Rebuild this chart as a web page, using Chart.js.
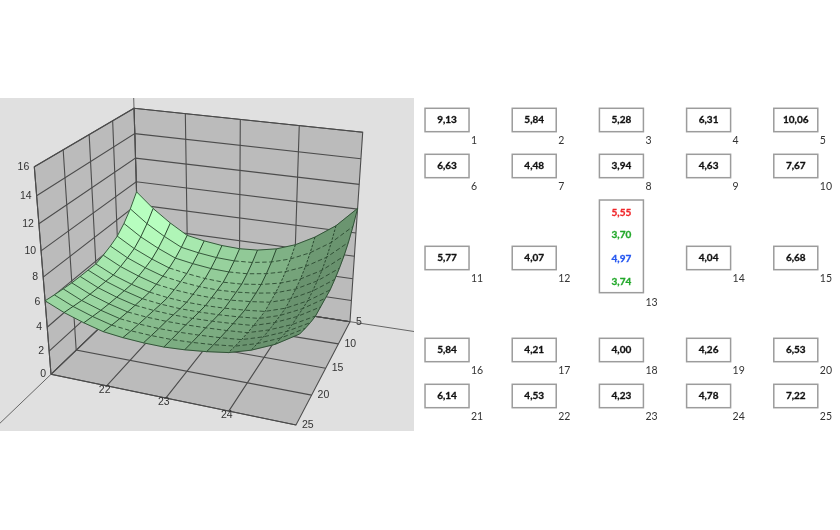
<!DOCTYPE html>
<html><head><meta charset="utf-8">
<style>
html,body{margin:0;padding:0;background:#fff;width:840px;height:530px;overflow:hidden}
canvas{position:absolute;display:block;filter:blur(.4px)}
#surface{left:0;top:98px;background:#e0e0e0}
#grid{left:420px;top:98px}
</style>
<script src="https://cdn.jsdelivr.net/npm/chart.js@4/dist/chart.umd.min.js"></script>
</head><body>
<canvas id="surface" width="414" height="333"></canvas>
<canvas id="grid" width="420" height="333"></canvas>
<script>
// ---------- data ----------
const zTicks = [0,2,4,6,8,10,12,14,16];
const xTicks = [22,23,24];
const yTicks = [5,10,15,20,25];
const surfaceX = [21,21.33,21.67,22,22.33,22.67,23,23.33,23.67,24,24.33,24.67,25];
const surfaceY = [5,6.67,8.33,10,11.67,13.33,15,16.67,18.33,20,21.67,23.33,25];
const surfaceZ = [
 [9.13,7.85,6.75,5.84,5.55,5.35,5.28,5.38,5.72,6.31,7.20,8.40,10.06],
 [8.08,6.97,6.04,5.27,4.99,4.79,4.72,4.81,5.10,5.60,6.38,7.50,9.06],
 [7.26,6.28,5.48,4.82,4.55,4.35,4.28,4.36,4.62,5.05,5.74,6.79,8.27],
 [6.63,5.75,5.05,4.48,4.22,4.02,3.94,4.02,4.25,4.63,5.25,6.25,7.67],
 [6.27,5.46,4.82,4.31,4.06,3.89,3.84,3.91,4.09,4.38,4.98,5.94,7.25],
 [5.99,5.23,4.64,4.17,3.94,3.80,3.76,3.82,3.97,4.19,4.76,5.69,6.93],
 [5.77,5.05,4.50,4.07,3.85,3.72,3.70,3.75,3.87,4.04,4.60,5.50,6.68],
 [5.79,5.08,4.53,4.10,3.90,3.79,3.78,3.83,3.94,4.10,4.65,5.51,6.64],
 [5.81,5.11,4.57,4.15,3.98,3.89,3.88,3.93,4.03,4.17,4.72,5.53,6.59],
 [5.84,5.15,4.62,4.21,4.06,4.00,4.00,4.05,4.13,4.26,4.80,5.55,6.53],
 [5.92,5.23,4.70,4.29,4.13,4.06,4.06,4.12,4.23,4.39,4.93,5.69,6.70],
 [6.02,5.35,4.82,4.40,4.23,4.15,4.14,4.22,4.36,4.57,5.10,5.88,6.94],
 [6.14,5.48,4.95,4.53,4.35,4.25,4.23,4.33,4.52,4.78,5.30,6.10,7.22]
];
const cellLabels = ["1","2","3","4","5","6","7","8","9","10","11","12","14","15","16","17","18","19","20","21","22","23","24","25"];
const cellValues = [9.13,5.84,5.28,6.31,10.06,6.63,4.48,3.94,4.63,7.67,5.77,4.07,4.04,6.68,5.84,4.21,4.00,4.26,6.53,6.14,4.53,4.23,4.78,7.22];
const cellCols = [1,2,3,4,5,1,2,3,4,5,1,2,4,5,1,2,3,4,5,1,2,3,4,5];
const cellRows = [1,1,1,1,1,2,2,2,2,2,4,4,4,4,6,6,6,6,6,7,7,7,7,7];
const centreValues = [5.55,3.70,4.97,3.74];
const centreRows = [3.007,3.5,4.015,4.515];
const centreColours = ["#f0262a","#22a82a","#2456f0","#22a82a"];

// ---------- camera of the 3D box (pixels of the picture) ----------
const cam = {
  floor:[[139.5,289.5],[350,321.7],[296,425],[51,374.3]],
  top:[[134,108.3],[362.7,132.3],[304.7,208.3],[34.3,166.7]],
  k:0.88
};
function quad(p){
  const [x0,y0]=p[0],[x1,y1]=p[1],[x2,y2]=p[2],[x3,y3]=p[3];
  const dx1=x1-x2,dx2=x3-x2,sx=x0-x1+x2-x3,dy1=y1-y2,dy2=y3-y2,sy=y0-y1+y2-y3;
  const den=dx1*dy2-dx2*dy1,g=(sx*dy2-dx2*sy)/den,h=(dx1*sy-sx*dy1)/den;
  const a=x1-x0+g*x1,b=x3-x0+h*x3,d=y1-y0+g*y1,e=y3-y0+h*y3;
  return (u,v)=>{const w=g*u+h*v+1;return [(a*u+b*v+x0)/w,(d*u+e*v+y0)/w];};
}
const floorMap=quad(cam.floor), topMap=quad(cam.top);
function project(x,y,z){
  const u=(x-21)/4,v=(y-5)/20,t=z/16,f=t*cam.k/(1+t*(cam.k-1));
  const a=floorMap(u,v),b=topMap(u,v);
  return {x:a[0]+(b[0]-a[0])*f,y:a[1]+(b[1]-a[1])*f};
}

// ---------- datasets of the surface chart ----------
const sets=[];
const WALL="#bbbbbb",LINE="#4c4c4c";
function poly(pts,fillColour){sets.push({data:pts,showLine:true,fill:'shape',backgroundColor:fillColour,borderColor:LINE,borderWidth:1.1,pointRadius:0,tension:0});}
function line(pts,colour,width,dash){sets.push({data:pts,showLine:true,fill:false,borderColor:colour,borderWidth:width,borderDash:dash||[],pointRadius:0,tension:0});}
const P=project;
poly([P(21,5,0),P(25,5,0),P(25,5,16),P(21,5,16),P(21,5,0)],WALL);
poly([P(21,25,0),P(21,5,0),P(21,5,16),P(21,25,16),P(21,25,0)],WALL);
poly([P(21,25,0),P(25,25,0),P(25,5,0),P(21,5,0),P(21,25,0)],WALL);
zTicks.forEach(z=>{line([P(21,25,z),P(21,5,z),P(25,5,z)],LINE,1.1);});
xTicks.forEach(x=>{line([P(x,25,0),P(x,5,0),P(x,5,16)],LINE,1.1);});
yTicks.forEach(y=>{line([P(25,y,0),P(21,y,0),P(21,y,16)],LINE,1.1);});
line([P(25,5,0),P(28,5,0)],"#666",1);
line([P(21,25,0),P(21,36,0)],"#666",1);
line([P(21,5,16),P(21,5,17.2)],"#666",1);

function facetColour(i,j){
  const Z=surfaceZ,n=12;
  const i0=Math.max(0,i-1),i1=Math.min(n,i+2),j0=Math.max(0,j-1),j1=Math.min(n,j+2);
  const du=((Z[j][i1]+Z[j+1][i1])-(Z[j][i0]+Z[j+1][i0]))/2/(i1-i0)/16*12;
  const dv=((Z[j1][i]+Z[j1][i+1])-(Z[j0][i]+Z[j0][i+1]))/2/(j1-j0)/16*12;
  const len=Math.hypot(du,dv,1),nx=-du/len,ny=-dv/len,nz=1/len;
  const depth=(i+j)/24;
  const G=Math.max(146,Math.min(254,186+78*nx+44*ny+13*nz-26*depth));
  return `rgb(${Math.round(G*.72)},${Math.round(G)},${Math.round(G*.75)})`;
}
const facets=[];
for(let j=0;j<12;j++)for(let i=0;i<12;i++)facets.push([i,j]);
facets.sort((a,b)=>(a[0]+a[1])-(b[0]+b[1]));
facets.forEach(([i,j])=>{
  const c=facetColour(i,j);
  const q=[P(surfaceX[i],surfaceY[j],surfaceZ[j][i]),P(surfaceX[i+1],surfaceY[j],surfaceZ[j][i+1]),P(surfaceX[i+1],surfaceY[j+1],surfaceZ[j+1][i+1]),P(surfaceX[i],surfaceY[j+1],surfaceZ[j+1][i])];
  sets.push({data:[...q,q[0]],showLine:true,fill:'shape',backgroundColor:c,borderColor:c,borderWidth:.6,pointRadius:0,tension:0});
});
const MESH="#2a4a30";
surfaceY.forEach((y,j)=>{
  const pts=surfaceX.map((x,i)=>P(x,y,surfaceZ[j][i]));
  if(j===0||j===12){line(pts,MESH,.9);return;}
  const cut=j<3?6:3;
  line(pts.slice(0,cut+1),MESH,.9);
  line(pts.slice(cut),MESH,.9,[4.5,2.5]);
});
surfaceX.forEach((x,i)=>{
  const pts=surfaceY.map((y,j)=>P(x,y,surfaceZ[j][i]));
  if(i===0||i===12){line(pts,MESH,.9);return;}
  line(pts,MESH,1,i>8?[2.5,1.5]:[]);
});

const surfaceLabels={id:'surfaceLabels',afterDatasetsDraw(ch){
  const c=ch.ctx,sx=ch.scales.x,sy=ch.scales.y;
  const put=(txt,p,dx,dy,al)=>{c.textAlign=al;c.fillText(txt,sx.getPixelForValue(p.x)+dx,sy.getPixelForValue(p.y)+dy);};
  c.save();c.fillStyle="#333";c.font="10.5px 'Liberation Sans'";c.textBaseline="middle";
  zTicks.forEach(z=>put(String(z),P(21,25,z),-5,0,'right'));
  xTicks.forEach(x=>put(String(x),P(x,25,0),-2,4,'center'));
  yTicks.forEach(y=>put(String(y),P(25,y,0),6,0,'left'));
  c.restore();
}};
new Chart(document.getElementById('surface'),{type:'scatter',
  data:{datasets:sets.slice().reverse()},
  options:{responsive:false,animation:false,devicePixelRatio:1,layout:{padding:0},
    plugins:{legend:{display:false},tooltip:{enabled:false},title:{display:false}},
    events:[],
    scales:{x:{type:'linear',display:false,min:0,max:414},y:{type:'linear',display:false,min:98,max:431,reverse:true}}},
  plugins:[surfaceLabels]});

// ---------- uniformity grid chart ----------
const fmt=v=>v.toFixed(2).replace('.',',');
const BOX_W=44,BOX_H=23.4,BORDER="#9c9c9c";
const boldText=(c,t,x,y)=>{c.lineWidth=.3;c.strokeStyle=c.fillStyle;c.strokeText(t,x,y);c.fillText(t,x,y);};
const gridPlugin={id:'gridBoxes',afterDatasetsDraw(ch){
  const c=ch.ctx,sx=ch.scales.x,sy=ch.scales.y;
  c.save();c.textBaseline="middle";
  cellValues.forEach((v,n)=>{
    const px=sx.getPixelForValue(cellCols[n]),py=sy.getPixelForValue(cellRows[n]);
    c.strokeStyle=BORDER;c.lineWidth=1.5;c.strokeRect(px-BOX_W/2,py-BOX_H/2,BOX_W,BOX_H);
    c.fillStyle="#111";c.font="bold 10px Lato";c.textAlign="center";boldText(c,fmt(v),px,py);
    c.fillStyle="#333";c.font="10.5px Lato";c.textAlign="left";c.fillText(cellLabels[n],px+BOX_W/2+2,py+21);
  });
  const mx=sx.getPixelForValue(3);
  const ys=centreRows.map(r=>sy.getPixelForValue(r));
  c.strokeStyle=BORDER;c.lineWidth=1.5;c.strokeRect(mx-BOX_W/2,ys[0]-12.3,BOX_W,ys[3]-ys[0]+23.3);
  centreValues.forEach((v,i)=>{c.fillStyle=centreColours[i];c.font="bold 10px Lato";c.textAlign="center";boldText(c,fmt(v),mx,ys[i]);});
  c.fillStyle="#333";c.font="10.5px Lato";c.textAlign="left";c.fillText("13",mx+BOX_W/2+2,ys[3]+20.6);
  c.restore();
}};
new Chart(document.getElementById('grid'),{type:'scatter',
  data:{datasets:[
    {label:'cells',data:cellValues.map((v,n)=>({x:cellCols[n],y:cellRows[n],v})),pointRadius:0},
    {label:'centre',data:centreValues.map((v,i)=>({x:3,y:centreRows[i],v})),pointRadius:0}
  ]},
  options:{responsive:false,animation:false,devicePixelRatio:1,layout:{padding:0},events:[],
    plugins:{legend:{display:false},tooltip:{enabled:false}},
    scales:{x:{type:'linear',display:false,min:0.69,max:5.507},y:{type:'linear',display:false,min:0.522,max:7.761,reverse:true}}},
  plugins:[gridPlugin]});
</script>
</body></html>
